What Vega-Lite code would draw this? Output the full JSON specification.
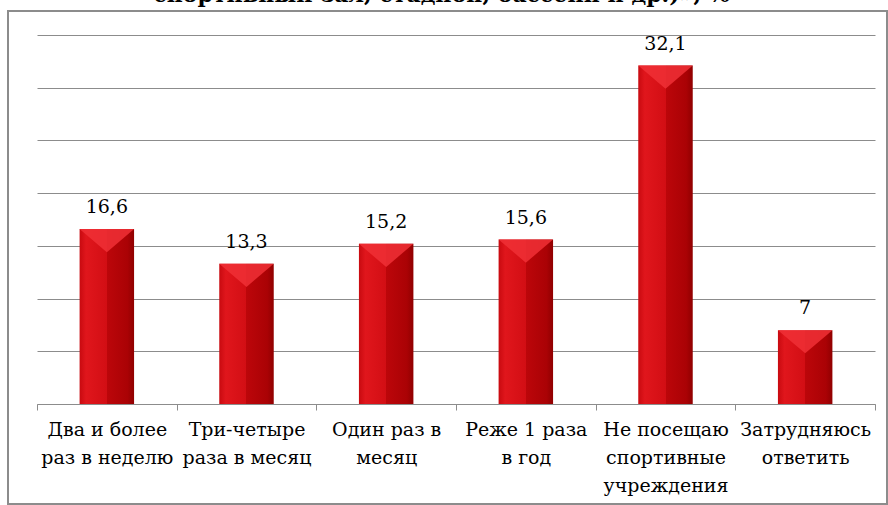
{
  "$schema": "https://vega.github.io/schema/vega-lite/v6.json",
  "autosize": "none",
  "width": 879,
  "height": 493,
  "padding": {"left": 8, "top": 11, "right": 1, "bottom": 1},
  "background": "white",
  "title": {
    "text": "спортивный зал, стадион, бассейн и др.)», %",
    "font": "DejaVu Serif",
    "fontSize": 22,
    "fontWeight": "bold",
    "color": "black",
    "anchor": "middle",
    "baseline": "alphabetic",
    "offset": 3,
    "dy": 16,
    "dx": -6
  },
  "config": {
    "font": "DejaVu Serif",
    "locale": {"number": {"decimal": ",", "thousands": " ", "grouping": [3], "currency": ["", ""]}},
    "view": {"stroke": "#8c8c8c", "strokeWidth": 2}
  },
  "data": {
    "values": [
      {"cat": "Два и более раз в неделю", "value": 16.6},
      {"cat": "Три-четыре раза в месяц", "value": 13.3},
      {"cat": "Один раз в месяц", "value": 15.2},
      {"cat": "Реже 1 раза в год", "value": 15.6},
      {"cat": "Не посещаю спортивные учреждения", "value": 32.1},
      {"cat": "Затрудняюсь ответить", "value": 7}
    ]
  },
  "encoding": {
    "x": {
      "field": "cat",
      "type": "nominal",
      "sort": null,
      "scale": {"range": [29, 867], "paddingInner": 0, "paddingOuter": 0},
      "axis": {
        "title": null,
        "labelAngle": 0,
        "offset": -100,
        "tickBand": "extent",
        "tickSize": 6,
        "tickColor": "#8c8c8c",
        "domainColor": "#8c8c8c",
        "labelFont": "DejaVu Serif",
        "labelFontSize": 19,
        "labelColor": "black",
        "labelPadding": 10,
        "labelLineHeight": 28,
        "labelLimit": 0,
        "labelExpr": "({'Два и более раз в неделю': ['Два и более', 'раз в неделю'], 'Три-четыре раза в месяц': ['Три-четыре', 'раза в месяц'], 'Один раз в месяц': ['Один раз в', 'месяц'], 'Реже 1 раза в год': ['Реже 1 раза', 'в год'], 'Не посещаю спортивные учреждения': ['Не посещаю', 'спортивные', 'учреждения'], 'Затрудняюсь ответить': ['Затрудняюсь', 'ответить']})[datum.label]"
      }
    },
    "y": {
      "field": "value",
      "type": "quantitative",
      "scale": {"domain": [0, 35], "range": [393, 24], "nice": false, "zero": true},
      "axis": {
        "title": null,
        "labels": false,
        "ticks": false,
        "domain": false,
        "values": [0, 5, 10, 15, 20, 25, 30, 35],
        "grid": true,
        "gridColor": "#8c8c8c",
        "gridWidth": 1
      }
    }
  },
  "layer": [
    {
      "mark": {
        "type": "bar",
        "width": {"band": 0.39},
        "fill": {
          "gradient": "linear",
          "x1": 0, "y1": 0, "x2": 1, "y2": 0,
          "stops": [
            {"offset": 0, "color": "#c80a10"},
            {"offset": 0.12, "color": "#e0161c"},
            {"offset": 0.5, "color": "#d20e14"},
            {"offset": 0.5, "color": "#bc060a"},
            {"offset": 0.88, "color": "#aa0205"},
            {"offset": 1, "color": "#900000"}
          ]
        }
      }
    },
    {
      "mark": {
        "type": "point",
        "shape": "M-1,0L1,0L0,0.85Z",
        "size": 2970,
        "filled": true,
        "fill": "#f03036",
        "opacity": 0.85,
        "strokeWidth": 0
      }
    },
    {
      "mark": {
        "type": "text",
        "font": "DejaVu Serif",
        "fontSize": 19,
        "color": "black",
        "baseline": "alphabetic",
        "dy": -16
      },
      "encoding": {
        "text": {"field": "value", "type": "quantitative", "format": ".1~f"}
      }
    }
  ]
}
